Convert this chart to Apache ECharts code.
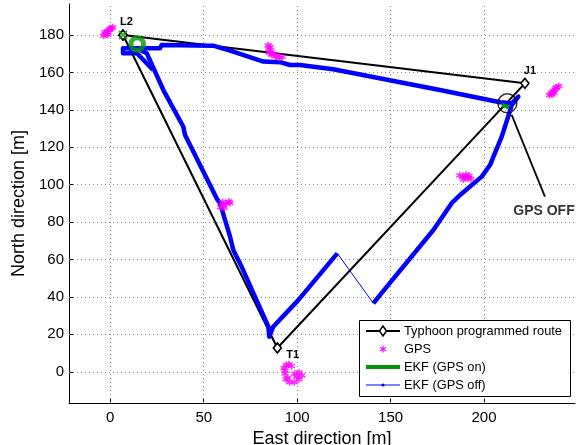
<!DOCTYPE html>
<html><head><meta charset="utf-8">
<script src="https://cdn.jsdelivr.net/npm/echarts@6/dist/echarts.min.js"></script>
<style>html,body{margin:0;padding:0;background:#fff}#c{width:581px;height:445px}</style>
</head><body><div id="c"></div>
<script>
// ---- data ----
const xTicks = [0, 50, 100, 150, 200];
const yTicks = [0, 20, 40, 60, 80, 100, 120, 140, 160, 180];
const routeNames = ['L2', 'T1', 'J1', ''];
const routeX = [6.8, 89.4, 221.9, 6.8];
const routeY = [180.0, 12.7, 154.2, 180.0];
const gpsX = [-3.5, -2.6, -1.6, -0.6, 0.4, 1.2, -2.8, -1.2, -0.2,
  84.5, 84.8, 85.0, 86.4, 88.4, 90.4, 92.0, 86.0, 85.6, 87.4, 89.4,
  59.0, 60.4, 62.0, 63.5, 61.0, 64.0, 60.0,
  93.0, 93.4, 94.0, 96.0, 98.5, 101.0, 102.5, 101.0, 98.6, 95.6, 94.2, 97.0, 99.6, 93.6, 95.0,
  187.0, 188.5, 190.0, 191.5, 193.0, 189.0, 190.5, 192.0,
  235.0, 236.0, 237.0, 238.0, 239.0, 240.0, 237.5, 238.6, 236.4];
const gpsY = [179.6, 180.6, 181.6, 182.6, 183.5, 184.2, 181.6, 180.2, 183.2,
  174.5, 172.5, 170.5, 169.5, 168.6, 168.0, 168.2, 171.4, 173.6, 169.8, 169.0,
  88.0, 89.0, 90.0, 91.0, 87.5, 90.2, 90.8,
  2.0, -1.0, -4.0, -5.6, -5.6, -4.0, -2.0, -0.4, -1.0, 4.0, 3.6, 3.0, -2.6, 0.6, -3.2,
  105.0, 104.5, 104.0, 103.5, 103.0, 102.8, 105.3, 104.8,
  148.0, 149.0, 150.0, 151.0, 152.0, 152.8, 149.0, 151.8, 148.2];
const ekfOnX = [209.6, 213.4];
const ekfOnY = [142.8, 141.2];
const startX = [14.4];
const startY = [175.2];
const ekfOffAX = [15.9, 19.5, 28.4, 39.1, 40.0, 56.9, 58.7, 64.1, 65.8, 70.3, 84.6, 85.1, 87.2, 100.6, 121.5];
const ekfOffAY = [172.0, 170.3, 150.6, 131.0, 126.6, 92.7, 90.1, 72.2, 65.1, 56.1, 24.1, 18.7, 24.1, 38.3, 63.3];
const ekfOffThinX = [121.5, 140.8];
const ekfOffThinY = [63.3, 36.6];
const ekfOffBX = [140.8, 144.3, 172.9, 182.7, 187.2, 198.8, 203.2, 209.5, 213.5, 214.8, 218.4, 214.9, 208.6, 176.4, 119.3, 101.5, 96.2, 90.8, 81.9, 65.8, 55.1, 27.5, 26.6, 6.8, 6.8, 14.3, 22.9];
const ekfOffBY = [36.6, 41.0, 75.8, 90.1, 94.5, 104.3, 110.5, 125.7, 138.2, 142.6, 147.1, 143.5, 144.1, 150.6, 161.7, 164.0, 164.0, 165.5, 165.8, 171.1, 174.3, 174.7, 172.9, 172.9, 170.3, 170.3, 161.3];
const gpsOffCircle = [212.5, 143.5];
const pointerX = [214.8, 232.6];
const pointerY = [137.3, 93.6];
const gpsOffText = 'GPS OFF';
const gpsOffTextPos = [232.1, 85.6];
const legendLabels = ['Typhoon programmed route', 'GPS', 'EKF (GPS on)', 'EKF (GPS off)'];

// ---- build ----
const zip = (xs, ys) => xs.map((x, i) => [x, ys[i]]);
const FONT = 'Liberation Sans, Arial, Helvetica, sans-serif';
const ASTER = 'path://M5,0L5,10M0.67,2.5L9.33,7.5M0.67,7.5L9.33,2.5';
const CROSS = 'path://M0,0L10,10M10,0L0,10';
const labelOffsets = [[3.5, -12.7], [15.4, 7], [5, -12.3], [0, 0]];

const routeData = zip(routeX, routeY).map((p, i) => ({
  value: p,
  label: { show: routeNames[i] !== '', formatter: routeNames[i], position: 'inside',
    offset: labelOffsets[i], fontSize: 11, fontWeight: 'bold', color: '#000', fontFamily: FONT }
}));

const chart = echarts.init(document.getElementById('c'), null, { renderer: 'canvas' });

const legendX = 359, legendY = 320, rowH = 18;
const lg = [];
lg.push({ type: 'rect', shape: { x: legendX + 0.5, y: legendY + 0.5, width: 211, height: 76 },
  style: { fill: '#fff', stroke: '#000', lineWidth: 1 }, z: 100 });
legendLabels.forEach((t, i) => {
  const cy = legendY + 11 + rowH * i;
  lg.push({ type: 'text', x: 404, y: cy, style: { text: t, fontSize: 12.8, fontFamily: FONT,
    fill: '#000', verticalAlign: 'middle', align: 'left' }, z: 101 });
});
const cy0 = legendY + 11;
lg.push({ type: 'line', shape: { x1: 366, y1: cy0, x2: 400, y2: cy0 }, style: { stroke: '#000', lineWidth: 2 }, z: 101 });
lg.push({ type: 'polygon', shape: { points: [[383, cy0 - 5], [386.5, cy0], [383, cy0 + 5], [379.5, cy0]] },
  style: { fill: '#fff', stroke: '#000', lineWidth: 1.5 }, z: 102 });
const cy1 = legendY + 11 + rowH;
lg.push({ type: 'line', shape: { x1: 383, y1: cy1 - 3.5, x2: 383, y2: cy1 + 3.5 }, style: { stroke: '#ff00ff', lineWidth: 1.2 }, z: 101 });
lg.push({ type: 'line', shape: { x1: 380, y1: cy1 - 1.75, x2: 386, y2: cy1 + 1.75 }, style: { stroke: '#ff00ff', lineWidth: 1.2 }, z: 101 });
lg.push({ type: 'line', shape: { x1: 380, y1: cy1 + 1.75, x2: 386, y2: cy1 - 1.75 }, style: { stroke: '#ff00ff', lineWidth: 1.2 }, z: 101 });
const cy2 = legendY + 11 + rowH * 2;
lg.push({ type: 'line', shape: { x1: 366, y1: cy2, x2: 400, y2: cy2 }, style: { stroke: '#079307', lineWidth: 4 }, z: 101 });
const cy3 = legendY + 11 + rowH * 3;
lg.push({ type: 'line', shape: { x1: 366, y1: cy3, x2: 400, y2: cy3 }, style: { stroke: '#0000ff', lineWidth: 1 }, z: 101 });
lg.push({ type: 'circle', shape: { cx: 383, cy: cy3, r: 1.6 }, style: { fill: '#0000ff' }, z: 102 });

const option = {
  animation: false,
  backgroundColor: '#fff',
  grid: { left: 69, right: 6, top: 4, bottom: 42, containLabel: false, outerBoundsMode: 'none' },
  xAxis: {
    type: 'value', min: -22.1, max: 248.7,
    name: 'East direction [m]', nameLocation: 'middle', nameGap: 21,
    nameTextStyle: { fontSize: 18, color: '#000', fontFamily: FONT },
    axisLine: { show: true, onZero: false, lineStyle: { color: '#000', width: 1 } },
    axisTick: { show: true, inside: true, length: 4, customValues: xTicks, lineStyle: { color: '#000' } },
    axisLabel: { customValues: xTicks, fontSize: 15, color: '#000', margin: 7, fontFamily: FONT },
    splitLine: { show: false }
  },
  yAxis: {
    type: 'value', min: -16.7, max: 196.6,
    name: 'North direction [m]', nameLocation: 'middle', nameGap: 38,
    nameTextStyle: { fontSize: 18, color: '#000', fontFamily: FONT },
    axisLine: { show: true, onZero: false, lineStyle: { color: '#000', width: 1 } },
    axisTick: { show: true, inside: true, length: 4, customValues: yTicks, lineStyle: { color: '#000' } },
    axisLabel: { customValues: yTicks, fontSize: 15, color: '#000', margin: 5, fontFamily: FONT },
    splitLine: { show: false }
  },
  series: [
    { type: 'line', name: legendLabels[0], data: routeData, z: 2,
      lineStyle: { color: '#000', width: 2 }, itemStyle: { color: '#fff', borderColor: '#000', borderWidth: 1.6 },
      symbol: 'diamond', symbolSize: [8, 10], showSymbol: true,
      markLine: { silent: true, symbol: 'none', z: 1, animation: false, label: { show: false },
        lineStyle: { type: [1, 3], color: '#8a8a8a', width: 1 },
        emphasis: { disabled: true },
        data: xTicks.map(v => ({ xAxis: v })).concat(yTicks.map(v => ({ yAxis: v }))) } },
    { type: 'line', name: legendLabels[3], data: zip(ekfOffAX, ekfOffAY), z: 3, symbol: 'none',
      lineStyle: { color: '#0000ff', width: 4.5, join: 'round' } },
    { type: 'line', name: 'thin', data: zip(ekfOffThinX, ekfOffThinY), z: 3, symbol: 'none',
      lineStyle: { color: '#0000ff', width: 1 } },
    { type: 'line', name: 'partB', data: zip(ekfOffBX, ekfOffBY), z: 3, symbol: 'none',
      lineStyle: { color: '#0000ff', width: 4.5, join: 'round' } },
    { type: 'scatter', name: legendLabels[1], data: zip(gpsX, gpsY), z: 4, symbol: ASTER, symbolSize: 7,
      itemStyle: { color: 'transparent', borderColor: '#ff00ff', borderWidth: 1.6 } },
    { type: 'line', name: legendLabels[2], data: zip(ekfOnX, ekfOnY), z: 5, symbol: 'none',
      lineStyle: { color: '#079307', width: 4 } },
    { type: 'scatter', name: 'start', data: zip(startX, startY), z: 6, symbol: 'circle', symbolSize: 12.5,
      itemStyle: { color: 'transparent', borderColor: '#079307', borderWidth: 5 } },
    { type: 'scatter', name: 'L2mark', data: [[routeX[0], routeY[0]]], z: 6, symbol: CROSS, symbolSize: 8,
      itemStyle: { color: 'transparent', borderColor: '#079307', borderWidth: 2 } },
    { type: 'scatter', name: 'gpsoff', data: [gpsOffCircle], z: 6, symbol: 'circle', symbolSize: 19,
      itemStyle: { color: 'transparent', borderColor: '#000', borderWidth: 1.5 } },
    { type: 'line', name: 'pointer', data: zip(pointerX, pointerY), z: 6, symbol: 'none',
      lineStyle: { color: '#000', width: 1.8 } },
    { type: 'scatter', name: 'gpsofftext', data: [gpsOffTextPos], z: 7, symbolSize: 1,
      itemStyle: { color: 'transparent' },
      label: { show: true, position: 'inside', formatter: gpsOffText, fontSize: 14, fontWeight: 'bold',
        color: '#000', fontFamily: FONT } }
  ],
  graphic: lg
};
chart.setOption(option);
</script>
</body></html>
